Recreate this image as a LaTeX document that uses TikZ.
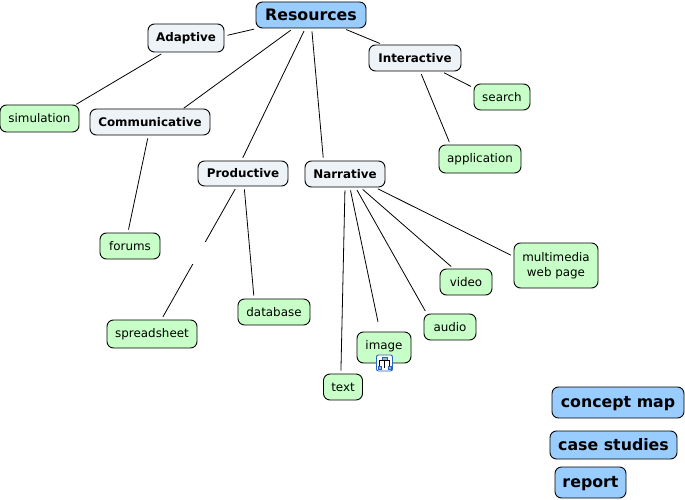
\documentclass[tikz,border=0pt]{standalone}
\usepackage{fontspec}
\setmainfont{DejaVu Sans}
\usetikzlibrary{positioning}
\definecolor{topblue}{HTML}{99CCFF}
\definecolor{midgrey}{HTML}{EEF3F7}
\definecolor{leafgreen}{HTML}{C8FFC8}
\definecolor{iconblue}{HTML}{2A62C0}
\tikzset{
  box/.style={draw=black, line width=0.9pt, rounded corners=6.5pt, inner sep=0pt, align=center},
  topbox/.style={box, fill=topblue, text height=12pt, text depth=1.5pt, font=\fontsize{15.8}{18}\selectfont\bfseries},
  midbox/.style={box, fill=midgrey, font=\fontsize{11.9}{14}\selectfont\bfseries},
  leafbox/.style={box, fill=leafgreen, font=\fontsize{11.9}{15}\selectfont},
  link/.style={draw=black, line width=0.8pt, shorten >=3pt, shorten <=3pt},
  gapmark/.style={fill=white, inner sep=0pt, minimum width=14pt, minimum height=22pt}
}
\begin{document}
\begin{tikzpicture}[x=1pt, y=-1pt]
    \useasboundingbox (0,0) rectangle (685,500);
    % Root
    \node (Resources) at (311,15) [topbox, minimum width=110pt, minimum height=26pt] {Resources};

    % Categories
    \node (Adaptive) at (186,38) [midbox, minimum width=76pt, minimum height=28pt] {Adaptive};
    \node (Interactive) at (415,58) [midbox, minimum width=92pt, minimum height=26pt] {Interactive};
    \node (Communicative) at (150,122) [midbox, minimum width=120pt, minimum height=26pt] {Communicative};
    \node (Productive) at (243,173.5) [midbox, minimum width=90pt, minimum height=25pt] {Productive};
    \node (Narrative) at (345,174) [midbox, minimum width=80pt, minimum height=26pt] {Narrative};

    % Leaves
    \node (simulation) at (39.5,118.5) [leafbox, minimum width=79pt, minimum height=27pt] {simulation};
    \node (search) at (502,97) [leafbox, minimum width=56pt, minimum height=26pt] {search};
    \node (application) at (480,159) [leafbox, minimum width=82pt, minimum height=28pt] {application};
    \node (forums) at (130,246) [leafbox, minimum width=60pt, minimum height=26pt] {forums};
    \node (spreadsheet) at (152,334) [leafbox, minimum width=90pt, minimum height=28pt] {spreadsheet};
    \node (database) at (274,312) [leafbox, minimum width=72pt, minimum height=26pt] {database};
    \node (text) at (343,387) [leafbox, minimum width=39pt, minimum height=26pt] {text};
    \node (image) at (384,347.5) [leafbox, minimum width=54pt, minimum height=31pt, text depth=6pt] {image};
    \node (audio) at (450,327) [leafbox, minimum width=52pt, minimum height=26pt] {audio};
    \node (video) at (466,282) [leafbox, minimum width=52pt, minimum height=26pt] {video};
    \node (multimedia) at (556,265.5) [leafbox, minimum width=84pt, minimum height=45pt] {multimedia\\web page};

    % Icon on image
    \node (icon) at (384.5,363) [draw=iconblue, fill=white, line width=0.9pt, rounded corners=2pt, minimum size=16pt, inner sep=0pt] {};
    \node (icontop) at (384.5,358.5) [draw=iconblue, fill=iconblue!50, line width=0.7pt, inner sep=0pt, minimum width=5pt, minimum height=3pt] {};
    \node (iconleft) at (379.5,367.5) [draw=iconblue, fill=iconblue!50, line width=0.7pt, inner sep=0pt, minimum size=3pt] {};
    \node (iconright) at (389.5,367.5) [draw=iconblue, fill=iconblue!50, line width=0.7pt, inner sep=0pt, minimum size=3pt] {};
    \draw[line width=0.7pt] (icontop) -- (384.5,367.5);
    \draw[line width=0.7pt] (iconleft.north) |- (icontop.south) -| (iconright.north);

    % Outputs
    \node (concept) at (618,402.5) [topbox, minimum width=132pt, minimum height=31pt] {concept map};
    \node (case) at (613.5,445) [topbox, minimum width=127pt, minimum height=28pt] {case studies};
    \node (report) at (590.5,482.5) [topbox, minimum width=71pt, minimum height=31pt] {report};

    % Links
    \draw[link] (Resources.194) -- (Adaptive.3);
    \draw[link, shorten >=0.5pt] (Resources.217) -- (Communicative.22);
    \draw[link] (Resources.-113) -- (Productive.97);
    \draw[link] (Resources.-87) -- (Narrative.148);
    \draw[link] (Resources) -- (Interactive);
    \draw[link, shorten >=0.5pt] (Adaptive.213) -- (simulation.21);
    \draw[link] (Interactive.-27) -- (search.162);
    \draw[link] (Interactive.-69) -- (application.154);
    \draw[link] (Communicative.-97) -- (forums.99);
    \draw[link] (Productive.-116) -- node[gapmark] (blank) {} (spreadsheet.57);
    \draw[link] (Productive.-85) -- (database.146);
    \draw[link] (Narrative.-90) -- (text.99);
    \draw[link, shorten >=10pt] (Narrative.-70) -- (image.104);
    \draw[link] (Narrative.-52) -- (audio.150);
    \draw[link] (Narrative.-41) -- (video.133);
    \draw[link] (Narrative.-24) -- (multimedia.168);
\end{tikzpicture}
\end{document}
